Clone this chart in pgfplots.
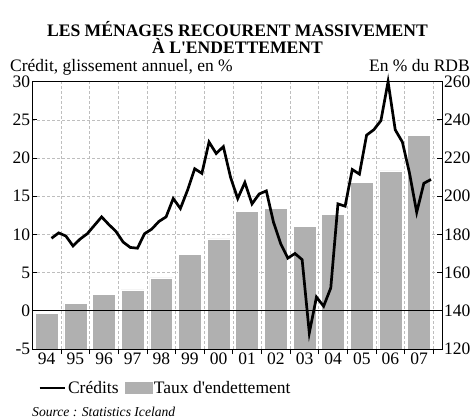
\documentclass[border=0pt]{standalone}
\usepackage{fontspec}
\setmainfont{Liberation Serif}[Ligatures=TeXOff]
\usepackage{pgfplots}
\pgfplotsset{compat=1.18}
\definecolor{barc}{RGB}{176,176,176}
\definecolor{gridc}{RGB}{190,190,190}
\newcommand\ff{\fontsize{17.5bp}{21bp}\selectfont}
\pgfplotsset{
  lineleg/.style={legend image code/.code={\draw[black,line width=2.7bp] (0bp,0bp) -- (25bp,0bp);}},
  barleg/.style={legend image code/.code={\fill[barc] (0bp,-5.5bp) rectangle (27bp,5.5bp);}},
  common/.style={
    at={(32.4bp,70bp)}, anchor=south west,
    scale only axis, width=409.6bp, height=267.3bp,
    xmin=1994, xmax=2008.3,
    tick label style={font=\ff},
    /pgf/number format/assume math mode=true,
    axis line style={black, line width=0.8bp},
    tick style={black, line width=0.8bp},
  }
}
\begin{document}
\begin{tikzpicture}
\useasboundingbox (0,0) rectangle (475bp,419bp);
\begin{axis}[common,
  ymin=120, ymax=260, ytick={120,140,...,260},
  ytick pos=right, yticklabel pos=right,
  xtick={1995,...,2008}, xticklabels={}, xtick pos=bottom,
  major tick length=5bp,
  xmajorgrids, ymajorgrids,
  grid style={gridc, dash pattern=on 3bp off 2bp, line width=0.7bp},
  yticklabel style={inner sep=2bp},
  ybar, bar width=0.8, bar shift=0pt,
]
\addplot[fill=barc, draw=white, line width=0.6bp] coordinates {
(1994.5,138.8) (1995.5,144.0) (1996.5,148.8) (1997.5,151.0) (1998.5,157.2)
(1999.5,169.5) (2000.5,177.7) (2001.5,192.2) (2002.5,193.8) (2003.5,184.4)
(2004.5,190.4) (2005.5,207.4) (2006.5,213.3) (2007.5,231.7)
};
\end{axis}
\begin{axis}[common,
  ymin=-5, ymax=30, ytick={-5,0,...,30},
  ytick pos=left,
  xtick={1994.5,1995.5,...,2007.5},
  xticklabels={94,95,96,97,98,99,00,01,02,03,04,05,06,07},
  xtick pos=bottom,
  xtick style={draw=none},
  major tick length=5bp,
  yticklabel style={inner sep=2bp},
  extra y ticks={0}, extra y tick labels={},
  extra y tick style={grid=major, major grid style={solid, black, line width=0.8bp}},
  clip=false,
  legend style={at={(0.014,-0.146)}, anchor=west, draw=none, fill=none, font=\ff,
    inner sep=0pt, /tikz/every even column/.append style={column sep=4bp}},
  legend cell align=left,
  legend columns=2,
]
\addplot[black, line width=2.7bp, lineleg] coordinates {
(1994.667,9.5) (1994.917,10.2) (1995.167,9.8) (1995.417,8.5) (1995.667,9.4) (1995.917,10.1)
(1996.167,11.2) (1996.417,12.3) (1996.667,11.3) (1996.917,10.4)
(1997.167,9.0) (1997.417,8.3) (1997.667,8.2) (1997.917,10.1)
(1998.167,10.7) (1998.417,11.7) (1998.667,12.3) (1998.917,14.7)
(1999.167,13.4) (1999.417,15.8) (1999.667,18.6) (1999.917,18.0)
(2000.167,22.1) (2000.417,20.6) (2000.667,21.5) (2000.917,17.5)
(2001.167,14.7) (2001.417,16.8) (2001.667,14.0) (2001.917,15.3)
(2002.167,15.7) (2002.417,11.6) (2002.667,8.8) (2002.917,6.9)
(2003.167,7.5) (2003.417,6.7) (2003.667,-2.9) (2003.917,1.8)
(2004.167,0.6) (2004.417,3.0) (2004.667,14.0) (2004.917,13.7)
(2005.167,18.5) (2005.417,17.9) (2005.667,23.0) (2005.917,23.7)
(2006.167,24.9) (2006.417,30.0) (2006.667,23.7) (2006.917,22.1)
(2007.167,18.0) (2007.417,12.9) (2007.667,16.7) (2007.917,17.2)
};
\addlegendentry{Crédits}
\addlegendimage{barleg}
\addlegendentry{Taux d'endettement}
\end{axis}
\node[anchor=base, inner sep=0pt, font=\fontsize{17.6bp}{20bp}\selectfont\bfseries] at (237.5bp,382.3bp) {LES MÉNAGES RECOURENT MASSIVEMENT};
\node[anchor=base, inner sep=0pt, font=\fontsize{17.6bp}{20bp}\selectfont\bfseries] at (237.5bp,365bp) {À L'ENDETTEMENT};
\node[anchor=base west, inner sep=0pt, font=\ff] at (10bp,347.5bp) {Crédit, glissement annuel, en \%};
\node[anchor=base east, inner sep=0pt, font=\ff] at (470bp,347.5bp) {En \% du RDB};
\node[anchor=base west, inner sep=0pt, font=\fontsize{13.6bp}{16bp}\selectfont\itshape] at (32bp,2.5bp) {Source : Statistics Iceland};
\end{tikzpicture}
\end{document}
